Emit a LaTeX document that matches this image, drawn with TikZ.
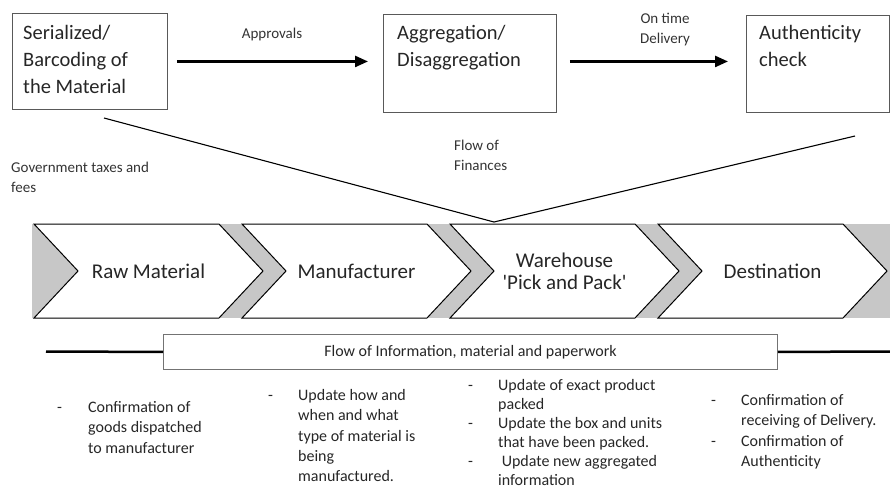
\documentclass[tikz,border=0pt]{standalone}
\usepackage{fontspec}
\setmainfont{Carlito}
\usetikzlibrary{arrows.meta}
\tikzset{
  stepbox/.style={draw=black!65, line width=0.9pt, anchor=north west, inner sep=0},
  boxtext/.style={anchor=north west, align=left, inner sep=0, text=black!85,
    font=\fontsize{20.5}{27}\selectfont},
  note/.style={align=left, inner sep=0, text=black!80, font=\fontsize{15}{20}\selectfont},
  flow/.style={-{Triangle[length=13pt,width=11pt]}, line width=2.5pt},
  chev/.style={draw=black, line width=1pt, fill=white},
  chevtext/.style={align=center, inner sep=0, text=black!85, font=\fontsize{21}{22}\selectfont},
  bullet/.style={anchor=north west, inner sep=0, text=black!85, font=\fontsize{16}{20.3}\selectfont},
}
\begin{document}
\begin{tikzpicture}[x=1pt,y=-1pt]
  \useasboundingbox (0,0) rectangle (890,491);
  % process steps along the top
  \node[stepbox, minimum width=155, minimum height=96] (ser) at (12,13) {};
  \node[stepbox, minimum width=173, minimum height=98] (agg) at (383,14) {};
  \node[stepbox, minimum width=143, minimum height=97] (auth) at (746,15) {};
  \node[boxtext] at ([shift={(11,12)}]ser.north west) {Serialized/\\Barcoding of\\the Material};
  \node[boxtext] at ([shift={(14,11)}]agg.north west) {Aggregation/\\Disaggregation};
  \node[boxtext] at ([shift={(13,10)}]auth.north west) {Authenticity\\check};
  \draw[flow] ([xshift=9]ser.east) -- ([xshift=-15]agg.west|-ser.east);
  \draw[flow] ([xshift=13]agg.east|-ser.east) -- ([xshift=-18]auth.west|-ser.east);
  \node[note, align=center] (appr) at (272,34) {Approvals};
  \node[note, align=center] (otd) at (665,30) {On time\\Delivery};
  % finance lines meeting at the warehouse
  \coordinate (finL) at (104,118);
  \coordinate (finR) at (855,136);
  \coordinate (finTip) at (494,222);
  \draw[line width=1.1pt] (finL) -- (finTip) -- (finR);
  \node[note, anchor=north west] (fin) at (454,140) {Flow of\\Finances};
  \node[note, anchor=north west] (gov) at (11,162) {Government taxes and\\fees};
  % chevron band
  \fill[black!22] (32,224) rectangle (890,318);
  \foreach \s/\name/\txt in {34/raw/Raw Material,242/man/Manufacturer,
      450/wh/{Warehouse\\\textquotesingle Pick and Pack\textquotesingle},658/dest/Destination}{
    \draw[chev] (\s,224) -- ++(185,0) -- ++(44,47) -- ++(-44,47) -- ++(-185,0)
      -- ++(44,-47) -- cycle;
    \node[chevtext] (\name) at (\s+114.5,271) {\txt};
  }
  % information bar
  \node[draw=black!55, line width=0.9pt, minimum width=614, minimum height=35,
    inner sep=0, anchor=north west, text=black!85, font=\fontsize{16}{19}\selectfont]
    (info) at (163,334) {Flow of Information, material and paperwork};
  \coordinate (infoL) at (46,351.5);
  \coordinate (infoR) at (890,351.5);
  \draw[line width=2.5pt] (infoL) -- (info.west);
  \draw[line width=2.5pt] (info.east) -- (infoR);
  % notes under each step
  \node[bullet] (n1) at (57,398) {\begin{tabular}{@{}p{31pt}@{}l@{}}
    - & Confirmation of\\ & goods dispatched\\ & to manufacturer\end{tabular}};
  \node[bullet] (n2) at (268,386) {\begin{tabular}{@{}p{30pt}@{}l@{}}
    - & Update how and\\ & when and what\\ & type of material is\\ & being\\
      & manufactured.\end{tabular}};
  \node[bullet, font=\fontsize{16}{19}\selectfont] (n3) at (468,377) {\begin{tabular}{@{}p{30pt}@{}l@{}}
    - & Update of exact product\\ & packed\\ - & Update the box and units\\
      & that have been packed.\\ - & \ Update new aggregated\\ & information\end{tabular}};
  \node[bullet] (n4) at (711,391) {\begin{tabular}{@{}p{30pt}@{}l@{}}
    - & Confirmation of\\ & receiving of Delivery.\\ - & Confirmation of\\
      & Authenticity\end{tabular}};
\end{tikzpicture}
\end{document}
